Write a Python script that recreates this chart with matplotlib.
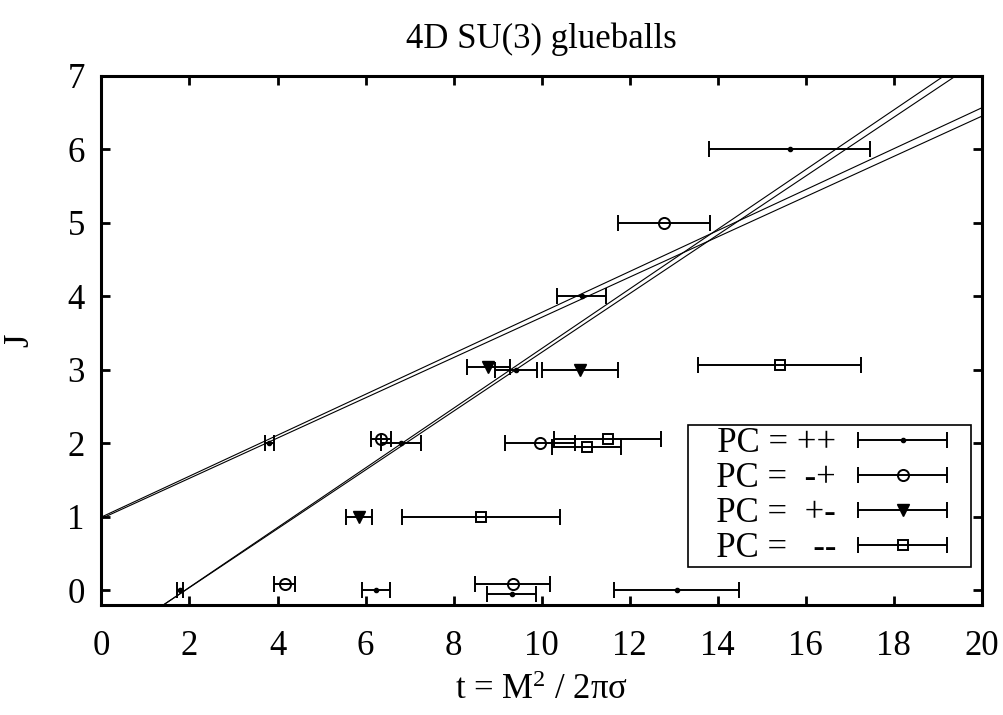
# glueball Chew-Frautschi plot, 4D SU(3)
import matplotlib
matplotlib.use('Agg')
import matplotlib.pyplot as plt
import numpy as np
from matplotlib.container import ErrorbarContainer
from matplotlib.legend_handler import HandlerErrorbar

plt.rcParams['font.family'] = ['Liberation Serif', 'DejaVu Serif']
plt.rcParams['mathtext.fontset'] = 'custom'
plt.rcParams['mathtext.rm'] = 'Liberation Serif'
plt.rcParams['mathtext.it'] = 'Liberation Serif:italic'

# PC = ++
pp_t = [1.78, 3.81, 6.24, 6.81, 9.32, 9.41, 10.91, 13.07, 15.63]
pp_J = [0, 2, 0, 2, -0.05, 3, 4, 0, 6]
pp_err = [0.07, 0.10, 0.32, 0.46, 0.555, 0.48, 0.555, 1.42, 1.83]

# PC = -+
mp_t = [4.16, 6.35, 9.96, 9.34, 12.78]
mp_J = [0.08, 2.06, 2.0, 0.08, 5]
mp_err = [0.23, 0.22, 0.79, 0.85, 1.05]

# PC = +-
pm_t = [5.85, 8.79, 10.87]
pm_J = [1, 3.04, 3.0]
pm_err = [0.29, 0.48, 0.86]

# PC = --
mm_t = [8.62, 15.41, 11.50, 11.02]
mm_J = [1, 3.06, 2.06, 1.95]
mm_err = [1.79, 1.85, 1.22, 0.78]

# trayectorias J = a + b t (dos bandas)
traj_a = [0.995, 0.975, -0.772, -0.764]
traj_b = [0.2785, 0.2738, 0.406, 0.400]

fig = plt.figure(figsize=(10.04, 7.15), dpi=100)
ax = fig.add_axes([0.101, 0.154, 0.877, 0.740])

t_line = np.array([0, 20])
for a, b in zip(traj_a, traj_b):
    ax.plot(t_line, a + b * t_line, color='black', lw=0.8)

kw = dict(linestyle='none', color='black', ecolor='black', elinewidth=1.4,
          capsize=6, capthick=1.4)
ax.errorbar(pp_t, pp_J, xerr=pp_err, fmt='.', ms=6, label='   PC = ++', **kw)
ax.errorbar(mp_t, mp_J, xerr=mp_err, fmt='o', ms=8, mfc='none', mew=1.4,
            label='   PC =  -+', **kw)
ax.errorbar(pm_t, pm_J, xerr=pm_err, fmt='v', ms=9, label='   PC =  +-', **kw)
ax.errorbar(mm_t, mm_J, xerr=mm_err, fmt='s', ms=7.2, mfc='none', mew=1.4,
            label='   PC =   --', **kw)

ax.set_xlim(0, 20)
ax.set_ylim(-0.2, 7)
ax.set_xticks(np.arange(0, 21, 2))
ax.set_yticks(np.arange(0, 8, 1))
ax.tick_params(direction='in', top=True, right=True, length=6.5, width=2,
               labelsize=25)
ax.tick_params(axis='x', pad=18)
ax.tick_params(axis='y', pad=12)
for s in ax.spines.values():
    s.set_linewidth(2.2)

ax.set_title('4D SU(3) glueballs', fontsize=25, pad=20)
ax.set_xlabel('t = M$^2$ / 2πσ', fontsize=25, labelpad=8)
ax.set_ylabel('J', fontsize=25, labelpad=22)

leg = ax.legend(loc='lower right', bbox_to_anchor=(0.9875, 0.072),
                borderaxespad=0, fontsize=25, markerfirst=False,
                handlelength=3.83, handletextpad=0, labelspacing=0.06,
                borderpad=0.05, fancybox=False, framealpha=1, edgecolor='black',
                handler_map={ErrorbarContainer: HandlerErrorbar(xerr_size=1.28)})
leg.get_frame().set_linewidth(1.2)

plt.savefig('out.png', dpi=100)
